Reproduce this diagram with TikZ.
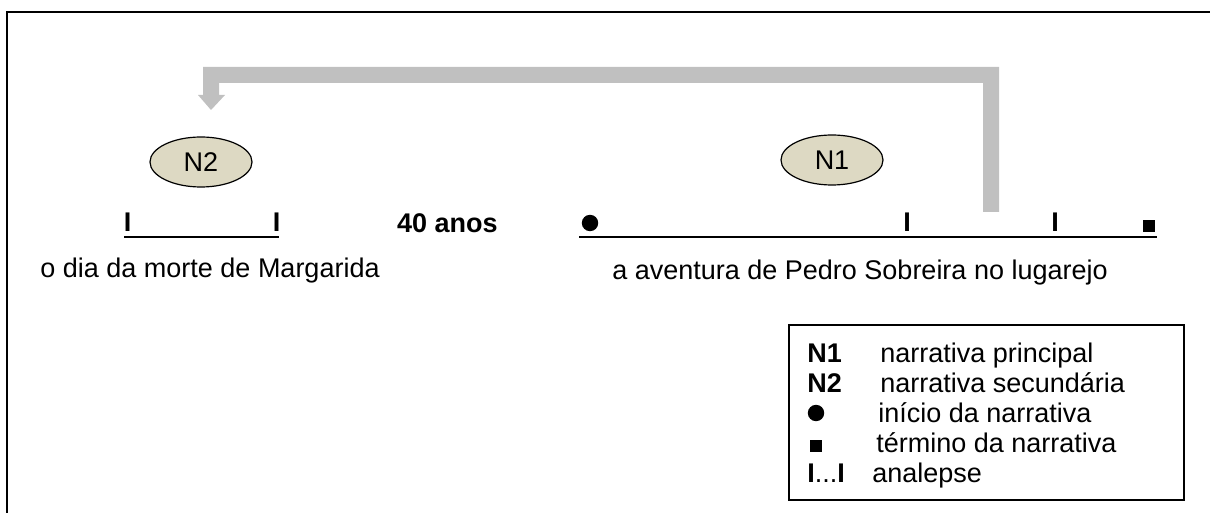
\documentclass[tikz,border=0pt]{standalone}
\usepackage{fontspec}
\setmainfont{Liberation Sans}
\usetikzlibrary{shapes.geometric}
\definecolor{arrowgray}{HTML}{C0C0C0}
\definecolor{nfill}{HTML}{DDD9C3}
\begin{document}
\begin{tikzpicture}[x=0.5pt,y=-0.5pt,
  font=\fontsize{13.5}{16}\selectfont,
  txt/.style={inner sep=0pt, anchor=base},
  btxt/.style={inner sep=0pt, anchor=base, font=\fontsize{13.5}{16}\selectfont\bfseries},
  ltxt/.style={inner sep=0pt, anchor=base west},
  lbtxt/.style={inner sep=0pt, anchor=base west, font=\fontsize{13.5}{16}\selectfont\bfseries},
  ell/.style={ellipse, draw, fill=nfill, minimum width=51pt, minimum height=25pt, inner sep=0pt, line width=0.6pt},
  tline/.style={line width=1.1pt},
  dotmark/.style={circle, fill=black, minimum size=8.2pt, inner sep=0pt},
  sqmark/.style={rectangle, fill=black, minimum size=6pt, inner sep=0pt},
  sqmarkb/.style={rectangle, fill=black, minimum size=5.6pt, inner sep=0pt}]
\useasboundingbox (0,0) rectangle (1210,513);
% outer frame
\coordinate (ftr) at (1210,12);
\coordinate (ftl) at (7,12);
\coordinate (fbl) at (7,513);
\draw[line width=1pt] (ftr) -- (ftl) -- (fbl);
% gray block arrow
\fill[arrowgray] (983,212) -- (983,83) -- (219,83) -- (219,95) -- (225,95) -- (211,110)
  -- (198,95) -- (203,95) -- (203,67) -- (999,67) -- (999,212) -- cycle;
% ellipses
\node[ell] (n2) at (201,162) {N2};
\node[ell] (n1) at (832,160) {N1};
% left timeline
\coordinate (l1) at (124,237);
\coordinate (l2) at (279,237);
\draw[tline] (l1) -- (l2);
\node[btxt] (lt1) at (127.5,232) {I};
\node[btxt] (lt2) at (276.5,232) {I};
\node[btxt] (forty) at (447.5,233) {40 anos};
\node[txt] (lefttext) at (210,278) {o dia da morte de Margarida};
% right timeline
\coordinate (r1) at (579,237);
\coordinate (r2) at (1157,237);
\draw[tline] (r1) -- (r2);
\node[dotmark] (start) at (590,223) {};
\node[btxt] (rt1) at (907,232) {I};
\node[btxt] (rt2) at (1055,232) {I};
\node[sqmark] (finish) at (1149,226) {};
\node[txt] (righttext) at (860,279) {a aventura de Pedro Sobreira no lugarejo};
% legend
\coordinate (lg1) at (789,325);
\coordinate (lg2) at (1184,500);
\draw[line width=0.8pt] (lg1) rectangle (lg2);
\node[lbtxt] (k1) at (807,362) {N1};
\node[ltxt] (v1) at (880,362) {narrativa principal};
\node[lbtxt] (k2) at (807,392) {N2};
\node[ltxt] (v2) at (880,392) {narrativa secundária};
\node[dotmark] (k3) at (816,413) {};
\node[ltxt] (v3) at (878,422) {início da narrativa};
\node[sqmarkb] (k4) at (816,446) {};
\node[ltxt] (v4) at (876,452) {término da narrativa};
\node[ltxt] (k5) at (807,482) {\bfseries I\mdseries...\bfseries I};
\node[ltxt] (v5) at (872,482) {analepse};
\end{tikzpicture}
\end{document}
